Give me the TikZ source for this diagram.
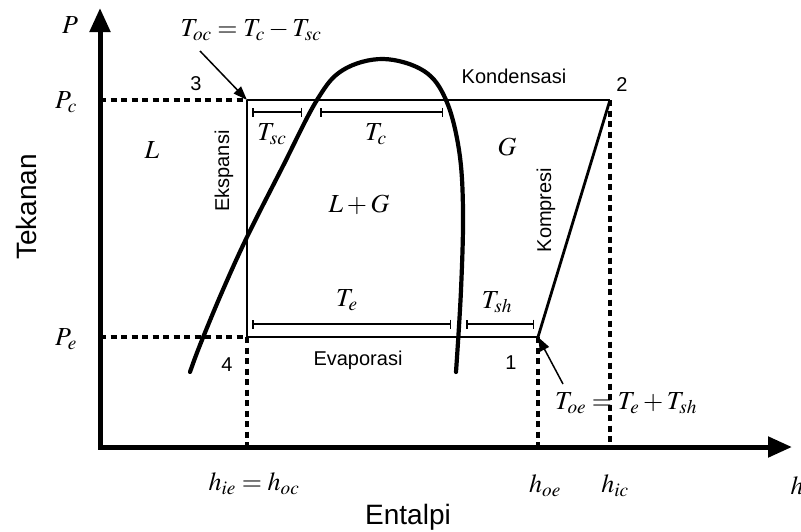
\documentclass[tikz,border=0pt]{standalone}
\usepackage{mathptmx}
\usepackage[no-math]{fontspec}
\setmainfont{Liberation Sans}
\usetikzlibrary{arrows.meta}
\begin{document}
\begin{tikzpicture}[x=1pt,y=-1pt,
 axis/.style={line width=5pt,{Triangle[length=24pt,width=20pt]}-{Triangle[length=24pt,width=20pt]}},
 thinline/.style={line width=1.6pt},
 dashln/.style={line width=3.4pt,dash pattern=on 6pt off 4.5pt},
 dimln/.style={line width=2pt,{Bar[width=9pt,line width=1.5pt]}-{Bar[width=9pt,line width=1.5pt]}},
 domeln/.style={line width=4.2pt,line cap=round},
 mth/.style={inner sep=0pt,font=\fontsize{26}{30}\selectfont},
 lbl/.style={inner sep=0pt,font=\fontsize{20}{24}\selectfont},
 ttl/.style={inner sep=0pt,font=\fontsize{28}{32}\selectfont},
 pointer/.style={line width=1.5pt,-{Triangle[length=14pt,width=10pt]}}]
\useasboundingbox (0,0) rectangle (801,531);
% key points
\coordinate (O) at (100,447);
\coordinate (ytip) at (100,8);
\coordinate (xtip) at (792,447);
\coordinate (p3) at (247,100);
\coordinate (p2) at (610,100);
\coordinate (p4) at (247,337);
\coordinate (p1) at (538,337);
\coordinate (pcax) at (100,100);
\coordinate (peax) at (100,337);
\coordinate (h4) at (247,447);
\coordinate (h1) at (538,447);
\coordinate (h2) at (610,447);
% axes
\draw[axis] (ytip) -- (O) -- (xtip);
% dashed guides
\draw[dashln] (pcax) -- (p3);
\draw[dashln] (peax) -- (p4);
\draw[dashln] (p4) -- (h4);
\draw[dashln] (p1) -- (h1);
\draw[dashln] (p2) -- (h2);
% cycle
\draw[thinline] (p3) -- (p2);
\draw[thinline] (p3) -- (p4) -- (p1);
\draw[line width=2.8pt] (p1) -- (p2);
% saturation dome
\draw[domeln] plot[smooth, tension=0.6] coordinates {(190,372) (200,345) (222,292) (247,237) (282,168) (317,100) (343,70) (383,59) (424,71) (446,100) (459,150) (463,210) (461,290) (456,372)};
% dimension lines
\coordinate (sc1) at (252,112); \coordinate (sc2) at (302,112);
\coordinate (c1) at (320,112); \coordinate (c2) at (443,112);
\coordinate (e1) at (252,324); \coordinate (e2) at (451,324);
\coordinate (sh1) at (466,324); \coordinate (sh2) at (534,324);
\draw[dimln] (sc1) -- (sc2);
\draw[dimln] (c1) -- (c2);
\draw[dimln] (e1) -- (e2);
\draw[dimln] (sh1) -- (sh2);
\node[mth] (Tsc) at (272,134) {$T_{sc}$};
\node[mth] (Tc) at (376,134) {$T_c$};
\node[mth] (Te) at (347,300) {$T_e$};
\node[mth] (Tsh) at (497,302) {$T_{sh}$};
% regions
\node[mth] (L) at (152,150) {$L$};
\node[mth] (G) at (507,147) {$G$};
\node[mth] (LG) at (359,205) {$L+G$};
% axis labels
\node[mth] (P) at (70,25) {$P$};
\node[mth] (Pc) at (66,102) {$P_c$};
\node[mth] (Pe) at (66,339) {$P_e$};
\node[ttl,rotate=90] (tek) at (26,207) {Tekanan};
\node[ttl] (ent) at (408,517) {Entalpi};
\node[mth] (hie) at (254,484) {$h_{ie} = h_{oc}$};
\node[mth] (hoe) at (545,486) {$h_{oe}$};
\node[mth] (hic) at (615,486) {$h_{ic}$};
\node[mth] (h) at (797,486) {$h$};
% process labels
\node[lbl] (kond) at (514,76) {Kondensasi};
\node[lbl] (evap) at (358,360) {Evaporasi};
\node[lbl,rotate=90] (eksp) at (224,171) {Ekspansi};
\node[lbl,rotate=90] (komp) at (546,210) {Kompresi};
\node[lbl] (n3) at (196,84) {3};
\node[lbl] (n2) at (622,85) {2};
\node[lbl] (n4) at (227,365) {4};
\node[lbl] (n1) at (511,363) {1};
% formulas with pointers
\node[mth] (toc) at (251,30) {$T_{oc} = T_c - T_{sc}$};
\coordinate (a1) at (200,51);
\draw[pointer] (a1) -- (p3);
\node[mth] (toe) at (626,403) {$T_{oe} = T_e + T_{sh}$};
\coordinate (a2) at (563,384);
\draw[pointer] (a2) -- (p1);
\end{tikzpicture}
\end{document}
